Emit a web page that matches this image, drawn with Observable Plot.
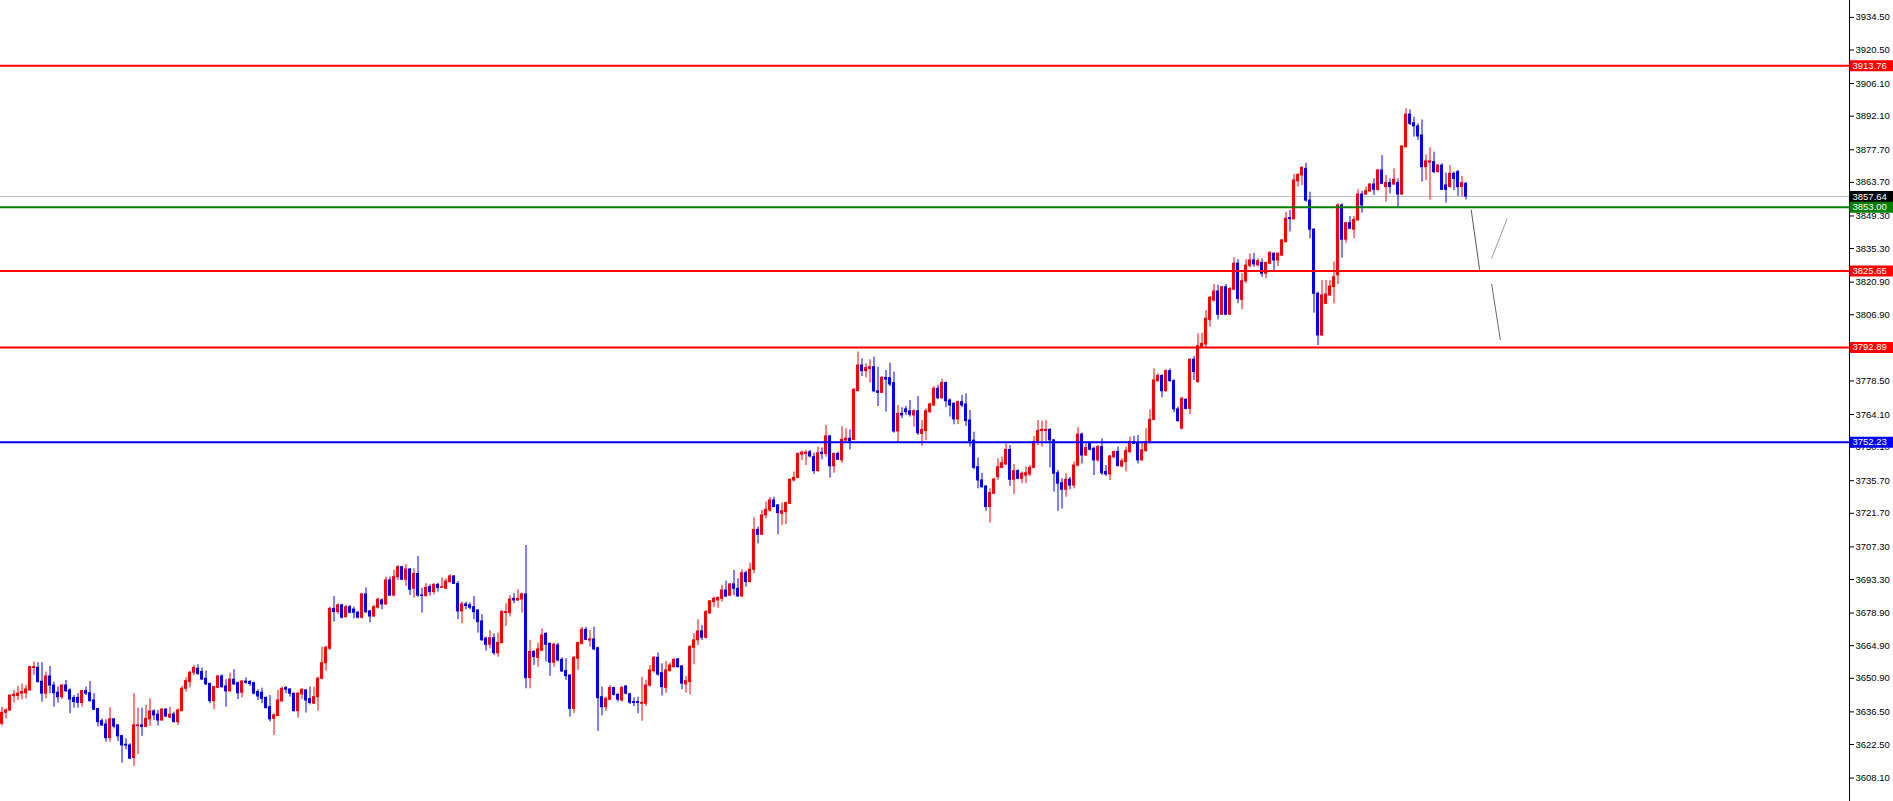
<!DOCTYPE html>
<html><head><meta charset="utf-8">
<script src="https://cdn.jsdelivr.net/npm/d3@7"></script>
<script src="https://cdn.jsdelivr.net/npm/@observablehq/plot@0.6"></script>
<style>html,body{margin:0;padding:0;background:#fff;overflow:hidden}</style>
</head><body><div id="chart"></div>
<script>
// OHLC series, one candle per bar index
const open = [3631.4,3636.1,3637.1,3643.3,3643.3,3644.3,3644.5,3645.7,3655.3,3655.4,3649.4,3644.3,3651.7,3647.8,3644.7,3642.8,3647.8,3645.7,3642.4,3642.5,3640.3,3645.4,3644.5,3641.4,3637.7,3632.5,3631.1,3625.2,3633.3,3630.7,3626.1,3622.4,3622.1,3616.7,3630.4,3630.7,3630.0,3633.3,3636.7,3635.3,3632.8,3637.5,3634.0,3635.4,3632.1,3636.8,3646.4,3649.3,3653.3,3655.0,3653.6,3650.7,3648.5,3641.1,3646.8,3651.7,3647.4,3645.3,3650.3,3648.8,3644.7,3649.5,3649.3,3648.8,3645.0,3644.7,3642.5,3638.5,3633.5,3634.7,3641.0,3646.7,3646.1,3644.3,3636.8,3644.0,3645.7,3642.0,3640.0,3642.8,3650.7,3657.4,3663.6,3680.7,3679.3,3682.2,3677.1,3681.4,3680.4,3679.0,3676.9,3686.9,3679.6,3677.4,3681.2,3684.3,3682.6,3692.9,3686.4,3694.3,
3698.6,3693.2,3697.6,3689.3,3695.7,3686.4,3686.2,3690.0,3687.9,3691.0,3689.7,3689.3,3692.2,3694.6,3691.4,3679.6,3682.6,3682.2,3681.4,3680.0,3675.3,3667.9,3665.3,3668.1,3661.7,3666.0,3678.9,3678.9,3685.0,3684.3,3684.7,3686.9,3651.0,3662.2,3659.7,3662.8,3670.0,3665.7,3657.6,3665.0,3658.8,3654.0,3652.1,3637.8,3659.3,3665.7,3671.7,3667.1,3667.6,3663.8,3642.8,3638.5,3641.7,3646.7,3643.8,3641.4,3647.4,3644.0,3640.7,3640.7,3640.0,3640.0,3647.8,3654.0,3659.7,3653.1,3646.8,3654.0,3655.7,3659.0,3656.0,3648.3,3649.3,3664.0,3667.2,
3671.1,3668.3,3678.8,3683.6,3684.3,3685.0,3688.6,3686.4,3691.2,3689.3,3686.0,3696.0,3692.2,3697.5,3714.6,3712.5,3720.8,3722.9,3727.2,3725.1,3721.5,3722.2,3725.8,3735.8,3736.9,3746.9,3747.2,3747.9,3745.8,3739.8,3747.7,3747.2,3754.7,3741.9,3747.2,3744.4,3752.9,3753.7,3753.2,3774.1,3785.1,3782.7,3783.7,3784.4,3774.0,3773.4,3779.8,3779.7,3777.6,3756.8,3764.4,3766.3,3765.5,3763.7,3765.5,3755.8,3757.0,3765.1,3768.0,3775.1,3771.1,3777.6,3770.1,3768.7,3762.0,3769.4,3768.4,3761.5,3752.9,3741.5,3735.8,3733.2,3724.4,3730.1,3737.2,
3741.2,3742.7,3748.9,3736.1,3739.8,3736.5,3737.9,3738.4,3741.2,3752.3,3757.0,3757.0,3757.5,3753.0,3738.9,3734.6,3731.8,3736.1,3733.6,3742.2,3755.5,3746.5,3751.5,3749.4,3744.4,3750.1,3739.4,3738.4,3745.8,3748.0,3741.8,3743.7,3748.0,3752.3,3751.5,3744.4,3748.4,3752.3,3761.8,3778.4,3780.6,3774.1,3782.7,3778.4,3766.3,3758.0,3770.4,3766.5,3787.6,3778.0,3793.0,3794.1,3804.7,3813.0,3816.9,3806.9,3818.7,3806.9,3817.6,3828.8,3813.3,3821.3,3827.9,
3830.2,3828.1,3829.1,3824.5,3828.8,3833.1,3830.2,3832.3,3838.1,3848.4,3847.9,3864.2,3866.7,3869.5,3855.9,3843.4,3815.9,3798.0,3811.6,3815.2,3818.8,3823.8,3853.8,3839.1,3846.2,3843.4,3847.4,3858.5,3858.5,3859.8,3862.8,3860.5,3868.8,3861.7,3863.4,3862.8,3863.4,3858.5,3878.8,3892.8,3889.1,3887.7,3883.8,3870.2,3872.2,3872.4,3868.1,3870.9,3862.4,3861.7,3867.4,3868.1,3861.7,3863.1];
const high = [3638.5,3637.8,3643.5,3645.7,3647.5,3648.5,3647.8,3656.0,3657.9,3657.6,3657.6,3653.6,3656.0,3649.3,3647.1,3648.1,3650.0,3646.4,3643.5,3644.3,3645.7,3647.1,3649.5,3644.3,3638.0,3633.5,3633.1,3638.3,3633.5,3631.0,3626.4,3625.0,3622.8,3644.3,3638.1,3638.1,3639.3,3642.1,3637.4,3637.1,3637.8,3637.8,3638.5,3636.4,3637.8,3647.4,3651.1,3653.8,3656.3,3656.7,3655.3,3654.0,3648.8,3647.4,3652.1,3652.4,3650.3,3653.1,3654.6,3649.3,3650.0,3651.1,3650.0,3649.3,3646.0,3646.7,3642.8,3643.5,3635.7,3645.7,3647.1,3647.4,3646.4,3644.5,3644.7,3646.4,3646.0,3647.1,3647.1,3651.4,3664.3,3664.6,3681.4,3686.0,3682.9,3682.6,3682.2,3682.2,3681.4,3679.6,3687.2,3689.7,3680.0,3682.2,3685.4,3685.0,3694.3,3694.3,3697.2,3699.3,
3698.9,3699.7,3697.9,3697.9,3703.2,3689.6,3691.5,3691.0,3691.5,3691.7,3694.0,3693.6,3695.4,3695.0,3692.4,3683.6,3683.6,3683.2,3686.0,3680.3,3678.2,3668.6,3671.4,3670.0,3670.3,3680.0,3682.9,3686.4,3687.2,3688.9,3687.4,3707.9,3667.2,3662.8,3666.0,3672.1,3670.3,3666.0,3666.0,3666.0,3659.7,3659.3,3652.4,3660.3,3666.4,3672.8,3672.8,3671.4,3672.8,3664.3,3647.1,3642.8,3647.8,3647.1,3644.3,3647.4,3647.8,3644.5,3642.5,3642.8,3651.4,3650.0,3656.4,3660.3,3661.8,3657.1,3658.1,3657.4,3659.3,3659.4,3656.4,3651.7,3665.0,3670.0,3676.0,
3673.6,3680.0,3684.3,3685.7,3685.7,3690.7,3692.6,3691.4,3697.2,3693.6,3697.5,3696.9,3700.3,3719.8,3715.8,3722.9,3726.5,3728.4,3728.6,3725.5,3726.1,3726.5,3736.5,3739.4,3747.5,3748.4,3748.7,3748.7,3747.5,3750.1,3749.7,3759.4,3755.1,3747.5,3747.9,3758.9,3758.0,3757.5,3775.1,3790.9,3788.0,3785.8,3787.6,3788.7,3784.4,3780.4,3783.0,3786.1,3782.3,3768.0,3767.0,3767.5,3770.1,3766.1,3771.8,3761.5,3766.5,3769.0,3776.1,3776.6,3779.3,3778.0,3770.8,3769.0,3769.8,3772.3,3773.0,3765.8,3756.5,3745.4,3738.9,3733.6,3732.2,3736.5,3745.1,
3745.8,3751.5,3750.8,3742.7,3740.4,3739.4,3741.5,3742.2,3754.7,3761.5,3761.3,3761.5,3758.0,3753.3,3740.1,3736.5,3738.7,3737.2,3743.7,3758.4,3756.1,3751.5,3752.3,3750.1,3750.8,3753.7,3742.2,3746.5,3748.3,3750.1,3745.1,3750.1,3754.4,3754.7,3755.1,3752.3,3758.0,3766.1,3783.7,3781.6,3781.2,3783.3,3783.6,3779.0,3767.3,3771.5,3770.8,3788.0,3789.0,3798.7,3799.0,3808.7,3814.7,3819.9,3819.5,3819.0,3819.9,3818.5,3831.3,3830.6,3824.5,3830.5,3833.0,
3833.3,3830.9,3830.9,3829.5,3833.8,3833.3,3833.3,3839.1,3850.9,3851.7,3867.1,3867.4,3870.5,3871.9,3859.5,3843.8,3816.6,3821.6,3821.6,3821.6,3829.5,3854.5,3854.5,3846.6,3849.1,3849.1,3860.5,3859.9,3861.7,3863.1,3865.2,3869.1,3875.2,3866.7,3865.2,3869.5,3865.2,3879.5,3895.3,3894.8,3891.7,3888.8,3890.5,3875.5,3878.5,3876.7,3871.4,3871.7,3867.7,3870.9,3868.1,3868.8,3866.2,3863.7];
const low = [3630.4,3633.5,3636.8,3640.3,3641.4,3641.7,3642.1,3645.4,3652.1,3648.8,3640.7,3642.1,3644.3,3638.5,3640.3,3641.8,3644.8,3635.7,3638.1,3638.1,3638.5,3643.5,3640.7,3637.1,3630.0,3630.2,3623.5,3623.5,3629.2,3623.8,3614.5,3620.2,3616.0,3613.1,3618.2,3626.0,3629.7,3630.2,3632.8,3630.4,3632.5,3634.0,3633.5,3631.7,3630.7,3636.7,3645.0,3646.8,3652.1,3652.1,3650.0,3647.8,3640.0,3637.4,3646.4,3646.7,3638.5,3645.0,3647.8,3641.8,3642.5,3648.3,3647.4,3643.8,3641.4,3640.0,3637.8,3632.1,3626.4,3634.5,3640.7,3644.3,3642.8,3636.5,3633.8,3641.7,3636.0,3639.5,3639.7,3636.8,3650.3,3654.0,3662.9,3675.0,3678.3,3676.4,3676.9,3678.6,3676.4,3676.4,3676.4,3678.6,3674.6,3677.1,3680.7,3680.3,3682.2,3686.0,3686.0,3692.9,
3692.9,3690.3,3686.4,3685.3,3685.7,3678.9,3685.7,3686.2,3686.7,3687.9,3689.6,3689.0,3691.7,3691.2,3676.0,3674.3,3680.3,3680.3,3676.0,3670.3,3666.9,3662.6,3663.6,3660.7,3660.0,3665.7,3673.2,3677.2,3682.9,3683.9,3678.9,3646.4,3646.4,3656.4,3655.7,3662.2,3657.9,3651.8,3655.7,3657.9,3653.6,3650.0,3634.3,3635.7,3654.3,3665.3,3667.1,3664.3,3662.8,3628.1,3634.7,3636.7,3641.4,3643.3,3640.7,3640.7,3643.8,3639.7,3638.8,3635.7,3632.5,3638.8,3647.1,3653.1,3651.8,3643.3,3644.5,3653.6,3655.3,3655.3,3646.0,3644.5,3643.8,3656.7,3665.0,
3667.1,3667.8,3678.3,3681.4,3681.0,3683.6,3685.7,3686.0,3686.4,3685.7,3685.7,3690.0,3691.9,3695.8,3708.6,3712.2,3719.3,3722.2,3724.1,3712.5,3716.5,3716.9,3725.5,3735.1,3736.5,3744.4,3742.2,3745.5,3738.4,3739.4,3744.7,3745.8,3736.8,3738.9,3744.4,3743.2,3752.7,3748.9,3752.9,3774.0,3780.4,3779.8,3777.6,3773.7,3767.5,3773.0,3765.1,3776.1,3756.1,3751.8,3762.3,3763.7,3763.0,3758.7,3755.1,3750.4,3752.9,3764.7,3767.5,3770.5,3770.5,3767.0,3763.0,3759.7,3759.8,3767.0,3759.0,3750.1,3740.4,3732.2,3732.5,3722.6,3717.6,3729.8,3735.8,
3740.8,3742.2,3733.2,3729.8,3736.1,3734.4,3734.4,3737.5,3740.8,3750.8,3750.1,3751.5,3741.2,3730.8,3722.5,3723.6,3728.6,3731.8,3732.2,3741.5,3742.9,3746.1,3748.4,3737.9,3743.7,3737.9,3737.5,3735.8,3745.1,3741.5,3741.2,3739.4,3747.3,3751.2,3742.9,3744.1,3748.0,3751.5,3761.5,3778.0,3771.3,3773.7,3778.0,3764.8,3760.8,3757.5,3766.1,3764.1,3778.7,3777.5,3792.3,3792.7,3801.6,3812.3,3804.7,3806.6,3806.6,3806.6,3817.3,3811.6,3809.0,3820.2,3827.0,
3827.3,3827.3,3823.0,3822.3,3828.5,3825.2,3827.6,3831.9,3837.6,3842.4,3847.6,3861.7,3862.4,3855.2,3839.5,3807.6,3793.7,3797.6,3811.3,3814.8,3811.6,3819.9,3831.2,3837.6,3843.4,3839.5,3847.1,3850.5,3858.1,3859.5,3858.1,3859.9,3862.8,3855.2,3858.8,3862.4,3853.1,3858.1,3878.5,3888.1,3883.1,3881.7,3863.8,3864.5,3856.2,3867.4,3867.7,3860.2,3854.8,3861.2,3860.2,3857.6,3857.4,3856.2];
const close = [3636.1,3637.1,3643.5,3643.8,3644.3,3645.0,3646.1,3655.7,3655.7,3649.3,3644.3,3651.7,3647.8,3644.5,3642.8,3647.8,3645.4,3641.8,3640.7,3640.4,3645.4,3644.3,3641.1,3637.4,3632.1,3630.7,3625.2,3633.3,3630.2,3626.0,3622.1,3622.0,3616.4,3630.7,3630.7,3630.0,3633.5,3636.7,3635.0,3632.8,3637.5,3634.5,3635.3,3632.1,3637.1,3646.4,3649.7,3653.3,3655.3,3652.8,3650.4,3648.3,3641.1,3647.1,3651.7,3647.1,3645.3,3650.3,3648.3,3644.5,3649.5,3649.0,3648.5,3644.3,3643.1,3642.1,3638.1,3633.3,3635.0,3641.4,3646.4,3646.0,3644.3,3636.8,3644.3,3646.0,3641.4,3640.3,3642.8,3650.7,3657.4,3664.0,3680.7,3679.3,3682.2,3676.9,3681.4,3679.0,3679.0,3676.9,3686.9,3679.3,3677.4,3681.4,3684.6,3682.6,3692.9,3686.4,3694.3,3698.6,
3693.2,3697.6,3688.9,3695.7,3686.4,3686.2,3689.7,3687.9,3691.0,3689.7,3690.0,3692.4,3694.6,3691.4,3679.6,3682.6,3681.9,3681.2,3679.3,3675.0,3667.2,3665.3,3668.1,3661.7,3666.1,3679.3,3679.3,3684.7,3684.3,3685.0,3686.9,3651.0,3662.2,3660.0,3663.3,3669.3,3665.3,3657.6,3665.3,3658.6,3653.8,3651.8,3637.8,3659.7,3666.0,3671.7,3667.4,3667.6,3663.3,3642.4,3638.5,3642.1,3646.7,3643.8,3641.7,3646.8,3644.3,3640.4,3640.3,3640.3,3640.4,3647.8,3654.3,3659.7,3652.5,3647.1,3654.3,3656.4,3658.8,3655.7,3648.6,3649.7,3664.3,3667.2,3671.0,
3668.3,3679.3,3683.9,3685.0,3685.4,3688.6,3686.0,3691.2,3689.3,3686.0,3696.0,3692.2,3697.5,3714.6,3712.5,3720.8,3723.2,3727.2,3724.4,3721.8,3722.6,3726.1,3736.1,3736.9,3747.2,3747.7,3747.7,3746.1,3739.8,3747.5,3747.2,3754.7,3741.9,3747.2,3744.7,3753.2,3753.7,3752.7,3774.7,3785.1,3782.7,3784.0,3784.4,3774.0,3773.4,3779.8,3779.1,3777.0,3756.8,3764.4,3763.7,3765.1,3764.0,3765.5,3756.1,3757.5,3765.5,3768.4,3775.1,3771.1,3777.6,3769.8,3768.0,3762.0,3769.4,3768.0,3761.3,3752.7,3741.2,3735.8,3732.9,3724.4,3730.4,3736.2,3741.5,
3743.2,3748.9,3736.1,3739.8,3736.5,3738.7,3738.9,3741.2,3752.3,3757.0,3757.5,3757.5,3753.0,3738.7,3734.4,3731.8,3736.1,3733.6,3742.2,3755.5,3746.5,3749.7,3749.0,3744.4,3750.1,3738.9,3738.4,3746.1,3748.0,3742.0,3744.0,3748.4,3752.3,3751.5,3744.4,3748.7,3752.3,3761.8,3778.7,3780.6,3774.1,3782.7,3778.4,3766.3,3761.3,3770.8,3766.5,3787.6,3782.3,3793.4,3794.4,3805.2,3814.2,3816.9,3806.9,3818.7,3806.9,3818.0,3828.8,3813.7,3821.3,3828.0,3830.2,
3828.5,3829.9,3824.5,3829.1,3833.5,3830.2,3833.1,3838.8,3848.1,3847.9,3864.5,3866.9,3869.9,3855.9,3843.4,3815.9,3798.0,3815.2,3815.6,3819.0,3823.0,3853.8,3839.1,3846.2,3843.8,3847.6,3858.5,3853.8,3859.9,3862.8,3860.5,3868.8,3863.1,3863.4,3861.7,3864.8,3858.5,3879.1,3892.8,3888.8,3887.7,3883.4,3870.2,3872.7,3872.7,3868.1,3870.9,3860.5,3860.5,3867.4,3865.2,3861.7,3863.4,3857.64];

// price axis tick labels
const tickValues = [3934.5,3920.5,3906.1,3892.1,3877.7,3863.7,3849.3,3835.3,3820.9,3806.9,3792.5,3778.5,3764.1,3750.1,3735.7,3721.7,3707.3,3693.3,3678.9,3664.9,3650.9,3636.5,3622.5,3608.1];

// horizontal levels
const levelPrices = [3913.76, 3853.00, 3825.65, 3792.89, 3752.23];
const levelColors = ["#ff0000", "#008000", "#ff0000", "#ff0000", "#0000ff"];
const bidPrice = 3857.64;

// hand-drawn trend segments (bar index, price)
const trendBar1 = [367.3, 372.4, 372.4];
const trendPrice1 = [3852.0, 3831.0, 3820.2];
const trendBar2 = [369.4, 376.3, 374.6];
const trendPrice2 = [3826.2, 3848.2, 3796.0];
const trendColors = ["#555555", "#9a9a9a", "#6a6a6a"];

const UP = "#ff0000", DOWN = "#0000ff";
const candles = open.map((o, i) => ({i, open: o, high: high[i], low: low[i], close: close[i], color: close[i] >= o ? UP : DOWN}));
const levels = levelPrices.map((p, k) => ({price: p, color: levelColors[k]}));
const tags = [{price: bidPrice, color: "#000000"}, ...levels];
const trends = trendBar1.map((b, k) => ({x1: b, y1: trendPrice1[k], x2: trendBar2[k], y2: trendPrice2[k], color: trendColors[k]}));

const tagBox = {draw(ctx) { ctx.moveTo(0, -5.5); ctx.lineTo(44, -5.5); ctx.lineTo(44, 5.5); ctx.lineTo(0, 5.5); ctx.closePath(); }};

const chart = Plot.plot({
  width: 1893, height: 801,
  marginLeft: 0, marginRight: 44, marginTop: 0, marginBottom: 0,
  style: {fontFamily: "'Liberation Sans', Arial, sans-serif", fontSize: "9.5px", background: "#fff", color: "#000", overflow: "visible"},
  x: {type: "linear", domain: [-0.375, 461.875], axis: null},
  y: {type: "linear", domain: [3598.04, 3941.75]},
  color: {type: "identity"},
  marks: [
    Plot.ruleY([bidPrice], {stroke: "#c0c0c0", strokeWidth: 1}),
    Plot.ruleX(candles, {x: "i", y1: "low", y2: "high", stroke: "color", strokeWidth: 1}),
    Plot.rect(candles, {x1: d => d.i - 0.375, x2: d => d.i + 0.375, y1: "open", y2: "close", fill: "color", insetTop: -0.5, insetBottom: -0.5}),
    Plot.ruleY(levels, {y: "price", stroke: "color", strokeWidth: 2}),
    Plot.link(trends, {x1: "x1", y1: "y1", x2: "x2", y2: "y2", stroke: "color", strokeWidth: 1}),
    Plot.frame({anchor: "right", stroke: "#000"}),
    Plot.axisY({anchor: "right", ticks: tickValues, tickFormat: d => d.toFixed(2), tickSize: 4, tickPadding: 2, fill: "#000", stroke: "#000", label: null}),
    Plot.dot(tags, {y: "price", frameAnchor: "right", dx: 0, symbol: tagBox, fill: "color", stroke: null}),
    Plot.text(tags, {y: "price", text: d => d.price.toFixed(2), frameAnchor: "right", dx: 3, textAnchor: "start", fill: "#fff", fontSize: 9.5})
  ]
});
document.getElementById("chart").appendChild(chart);
</script>
</body></html>
